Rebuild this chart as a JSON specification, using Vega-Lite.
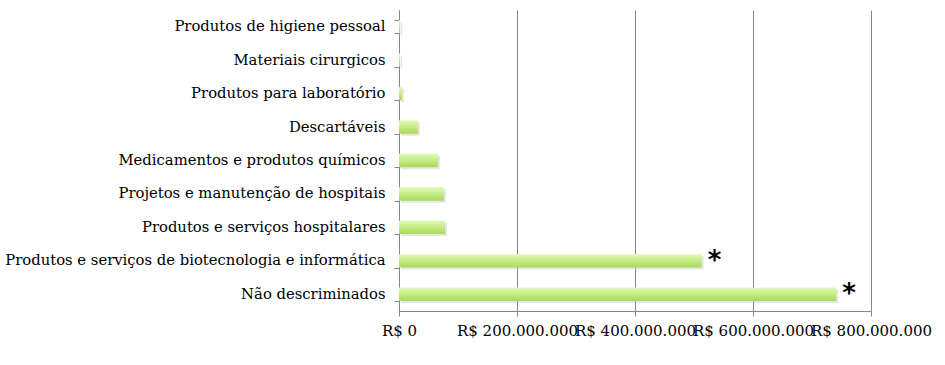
{
  "$schema": "https://vega.github.io/schema/vega-lite/v6.json",
  "width": 472,
  "height": 301,
  "autosize": {"type": "none"},
  "padding": {"left": 399, "top": 10, "right": 74, "bottom": 54},
  "background": "white",
  "data": {
    "values": [
      {"categoria": "Produtos de higiene pessoal", "valor": 2000000, "nota": ""},
      {"categoria": "Materiais cirurgicos", "valor": 2000000, "nota": ""},
      {"categoria": "Produtos para laboratório", "valor": 5000000, "nota": ""},
      {"categoria": "Descartáveis", "valor": 32000000, "nota": ""},
      {"categoria": "Medicamentos e produtos químicos", "valor": 66000000, "nota": ""},
      {"categoria": "Projetos e manutenção de hospitais", "valor": 76000000, "nota": ""},
      {"categoria": "Produtos e serviços hospitalares", "valor": 78000000, "nota": ""},
      {"categoria": "Produtos e serviços de biotecnologia e informática", "valor": 513000000, "nota": "*"},
      {"categoria": "Não descriminados", "valor": 741000000, "nota": "*"}
    ]
  },
  "encoding": {
    "y": {
      "field": "categoria",
      "type": "nominal",
      "sort": null,
      "scale": {"paddingInner": 0.6, "paddingOuter": 0.3},
      "axis": {
        "title": null,
        "labelFont": "DejaVu Serif",
        "labelFontSize": 14.8,
        "labelColor": "black",
        "labelPadding": 9,
        "tickBand": "extent",
        "tickSize": 5,
        "tickColor": "#868686",
        "domainColor": "#868686",
        "labelLimit": 500
      }
    },
    "x": {
      "field": "valor",
      "type": "quantitative",
      "scale": {"domain": [0, 800000000], "nice": false},
      "axis": {
        "title": null,
        "values": [0, 200000000, 400000000, 600000000, 800000000],
        "labelExpr": "'R$ ' + replace(format(datum.value, ',.0f'), regexp(',', 'g'), '.')",
        "labelFont": "DejaVu Serif",
        "labelFontSize": 15,
        "labelColor": "black",
        "labelPadding": 7,
        "labelOverlap": false,
        "labelFlush": false,
        "labelBound": false,
        "tickSize": 5,
        "tickColor": "#868686",
        "domainColor": "#868686",
        "grid": true,
        "gridColor": "#868686",
        "gridWidth": 1
      }
    }
  },
  "layer": [
    {
      "mark": {
        "type": "bar",
        "color": "#c8c8c8",
        "opacity": 0.45,
        "yOffset": 2,
        "xOffset": 2
      }
    },
    {
      "mark": {
        "type": "bar",
        "color": {
          "gradient": "linear",
          "x1": 0, "y1": 0, "x2": 0, "y2": 1,
          "stops": [
            {"offset": 0, "color": "#e2f8b8"},
            {"offset": 0.5, "color": "#c4ec82"},
            {"offset": 1, "color": "#a9d85e"}
          ]
        }
      }
    },
    {
      "mark": {
        "type": "text",
        "align": "left",
        "baseline": "middle",
        "dx": 6,
        "dy": 0,
        "font": "DejaVu Sans",
        "fontSize": 26,
        "fontWeight": "bold",
        "color": "black"
      },
      "encoding": {
        "text": {"field": "nota"}
      }
    }
  ],
  "config": {"view": {"stroke": null}}
}
